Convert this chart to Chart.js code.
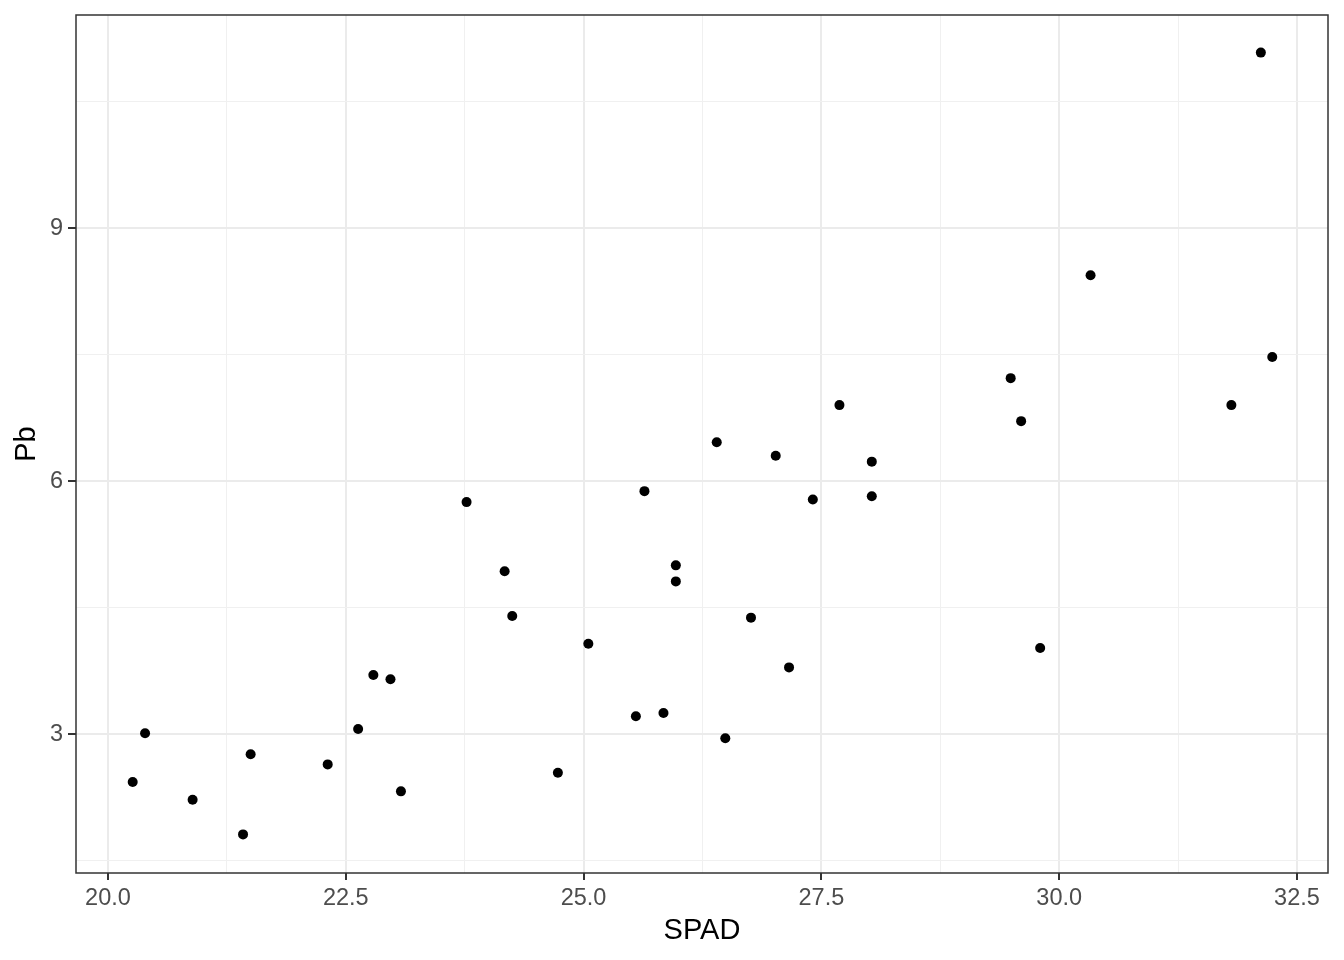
<!DOCTYPE html>
<html>
<head>
<meta charset="utf-8">
<script src="https://cdn.jsdelivr.net/npm/chart.js@4.4.1/dist/chart.umd.min.js"></script>
<style>
  body { margin: 0; background: #ffffff; }
</style>
</head>
<body>
<canvas id="spad-pb-chart" width="1344" height="960"></canvas>
<script>
// ---------------------------------------------------------------------------------------
// data

var spad = [20.26, 20.39, 20.89, 21.42, 21.50, 22.31, 22.63, 22.79, 22.97, 23.08,
            23.77, 24.17, 24.25, 24.73, 25.05, 25.55, 25.64, 25.84, 25.97, 25.97,
            26.40, 26.49, 26.76, 27.02, 27.16, 27.41, 27.69, 28.03, 28.03, 29.49,
            29.60, 29.80, 30.33, 31.81, 32.12, 32.24];
var pb   = [2.43, 3.01, 2.22, 1.81, 2.76, 2.64, 3.06, 3.70, 3.65, 2.32,
            5.75, 4.93, 4.40, 2.54, 4.07, 3.21, 5.88, 3.25, 5.00, 4.81,
            6.46, 2.95, 4.38, 6.30, 3.79, 5.78, 6.90, 6.23, 5.82, 7.22,
            6.71, 4.02, 8.44, 6.90, 11.08, 7.47];

var xMajor = [20, 22.5, 25, 27.5, 30, 32.5];
var xMinor = [21.25, 23.75, 26.25, 28.75, 31.25];
var yMajor = [3, 6, 9];
var yMinor = [1.5, 4.5, 7.5, 10.5];

var points = [];
for (var i = 0; i < spad.length; i++) {
  points.push({x: spad[i], y: pb[i]});
}

var fontFamily = "'Liberation Sans', Arial, sans-serif";

function isMajor(list, v) {
  return list.some(function(m){ return Math.abs(m - v) < 1e-6; });
}

// panel border on all four sides, like theme_bw
var panelBorder = {
  id: 'panelBorder',
  afterDraw: function(chart) {
    var a = chart.chartArea;
    var ctx = chart.ctx;
    ctx.save();
    ctx.strokeStyle = '#333333';
    ctx.lineWidth = 1.5;
    ctx.strokeRect(a.left, a.top, a.right - a.left, a.bottom - a.top);
    ctx.restore();
  }
};

new Chart(document.getElementById("spad-pb-chart"), {
  type: 'scatter',
  data: {
    datasets: [
      {
        label: "Pb",
        data: points,
        backgroundColor: "#000000",
        borderWidth: 0,
        pointRadius: 5,
        pointHoverRadius: 5
      }
    ]
  },
  options: {
    responsive: false,
    animation: false,
    layout: {padding: {top: 15, right: 16, left: 0, bottom: 0}},
    scales: {
      x: {
        type: 'linear',
        min: 19.664,
        max: 32.826,
        afterBuildTicks: function(axis) {
          axis.ticks = xMajor.concat(xMinor).sort(function(a, b){ return a - b; })
            .map(function(v){ return {value: v}; });
        },
        afterFit: function(scale) {
          scale.height = 87;
          scale.paddingLeft = 0;
          scale.paddingRight = 0;
        },
        border: {display: false},
        grid: {
          color: function(c) { return isMajor(xMajor, c.tick.value) ? '#EBEBEB' : '#F0F0F0'; },
          lineWidth: function(c) { return isMajor(xMajor, c.tick.value) ? 2 : 1; },
          tickColor: function(c) { return isMajor(xMajor, c.tick.value) ? '#333333' : 'rgba(0,0,0,0)'; },
          tickWidth: 2,
          tickLength: 7
        },
        ticks: {
          autoSkip: false,
          maxRotation: 0,
          padding: 4,
          color: '#4D4D4D',
          font: {family: fontFamily, size: 23.5},
          callback: function(v) { return isMajor(xMajor, v) ? v.toFixed(1) : ''; }
        },
        title: {
          display: true,
          text: 'SPAD',
          color: '#000000',
          font: {family: fontFamily, size: 29},
          padding: {top: 0, bottom: 12}
        }
      },
      y: {
        type: 'linear',
        min: 1.352,
        max: 11.526,
        afterBuildTicks: function(axis) {
          axis.ticks = yMajor.concat(yMinor).sort(function(a, b){ return a - b; })
            .map(function(v){ return {value: v}; });
        },
        afterFit: function(scale) {
          scale.width = 76;
          scale.paddingTop = 0;
          scale.paddingBottom = 0;
        },
        border: {display: false},
        grid: {
          color: function(c) { return isMajor(yMajor, c.tick.value) ? '#EBEBEB' : '#F0F0F0'; },
          lineWidth: function(c) { return isMajor(yMajor, c.tick.value) ? 2 : 1; },
          tickColor: function(c) { return isMajor(yMajor, c.tick.value) ? '#333333' : 'rgba(0,0,0,0)'; },
          tickWidth: 2,
          tickLength: 8
        },
        ticks: {
          autoSkip: false,
          padding: 5,
          color: '#4D4D4D',
          font: {family: fontFamily, size: 23.5},
          callback: function(v) { return isMajor(yMajor, v) ? String(v) : ''; }
        },
        title: {
          display: true,
          text: 'Pb',
          color: '#000000',
          font: {family: fontFamily, size: 29},
          padding: {top: 10, bottom: 0}
        }
      }
    },
    plugins: {
      legend: {display: false},
      tooltip: {enabled: false}
    }
  },
  plugins: [panelBorder]
});
</script>
</body>
</html>
